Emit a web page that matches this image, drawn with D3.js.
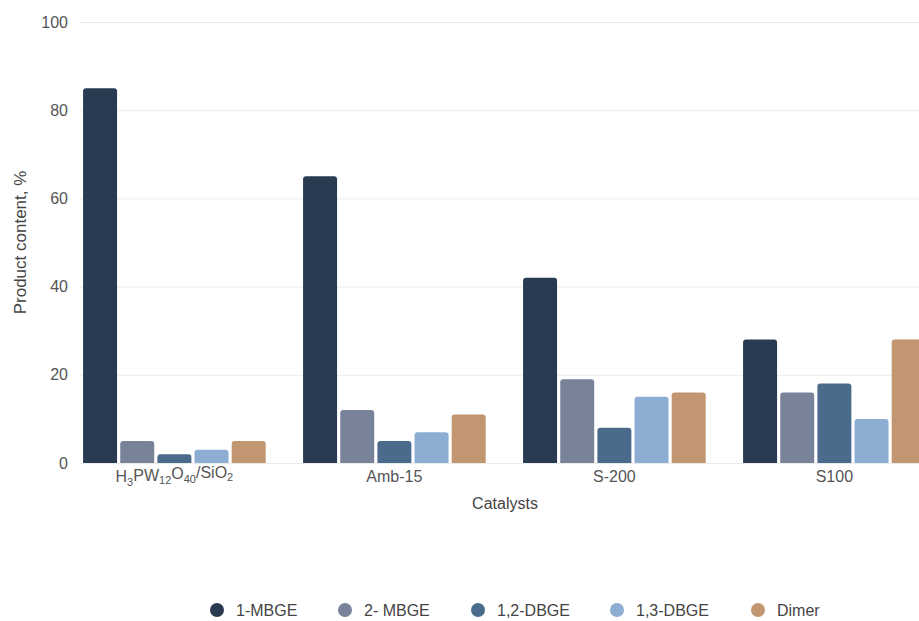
<!DOCTYPE html>
<html>
<head>
<meta charset="utf-8">
<script src="https://cdn.jsdelivr.net/npm/d3@7"></script>
<style>
  html, body { margin: 0; padding: 0; background: #fff; overflow: hidden; }
  svg { display: block; font-family: "Liberation Sans", Arial, Helvetica, sans-serif; }
</style>
</head>
<body>
<svg id="chart" width="919" height="621"></svg>
<script>
// ---- data ----
const categories = ["H3PW12O40/SiO2", "Amb-15", "S-200", "S100"];
const seriesNames = ["1-MBGE", "2- MBGE", "1,2-DBGE", "1,3-DBGE", "Dimer"];
const mbge1  = [85, 65, 42, 28];
const mbge2  = [5, 12, 19, 16];
const dbge12 = [2, 5, 8, 18];
const dbge13 = [3, 7, 15, 10];
const dimer  = [5, 11, 16, 28];
const seriesValues = [mbge1, mbge2, dbge12, dbge13, dimer];
const yTicks = [0, 20, 40, 60, 80, 100];
const colors = ["#293a51", "#78839a", "#4b6b8d", "#8dadd2", "#c29670"];

// ---- layout ----
const svg = d3.select("#chart");
const plotLeft = 80, plotTop = 22, plotBottom = 463;
const step = 220, pIn = 0.17, pOut = 0.014;
const plotRight = plotLeft + step * (categories.length - pIn + 2 * pOut);
const fs = 16;

const y = d3.scaleLinear().domain([0, 100]).range([plotBottom, plotTop]);
const x0 = d3.scaleBand().domain(categories).range([plotLeft, plotRight])
  .paddingInner(pIn).paddingOuter(pOut);
const x1 = d3.scaleBand().domain(seriesNames).range([0, x0.bandwidth()])
  .paddingInner(0.085).paddingOuter(0);
const color = d3.scaleOrdinal().domain(seriesNames).range(colors);

// gridlines
const yAxis = d3.axisLeft(y).tickValues(yTicks).tickSize(-(960 - plotLeft)).tickPadding(12);
const gy = svg.append("g").attr("transform", `translate(${plotLeft},0)`).call(yAxis);
gy.select(".domain").remove();
gy.selectAll(".tick line").attr("stroke", "#ebebeb").attr("stroke-width", 1);
gy.selectAll(".tick text").attr("fill", "#555").attr("font-size", fs)
  .attr("font-family", "'Liberation Sans', Arial, sans-serif");

// bars
const rows = categories.map((c, i) => ({
  cat: c,
  vals: seriesNames.map((s, j) => ({ s, v: seriesValues[j][i] }))
}));
function barPath(xp, yp, w, h, r) {
  r = Math.min(r, h, w / 2);
  return `M${xp},${yp + h}V${yp + r}Q${xp},${yp} ${xp + r},${yp}H${xp + w - r}Q${xp + w},${yp} ${xp + w},${yp + r}V${yp + h}Z`;
}
svg.append("g").selectAll("g").data(rows).join("g")
  .attr("transform", d => `translate(${x0(d.cat)},0)`)
  .selectAll("path").data(d => d.vals).join("path")
  .attr("fill", d => color(d.s))
  .attr("d", d => barPath(x1(d.s), y(d.v), x1.bandwidth(), y(0) - y(d.v), 3));

// x axis labels
const xAxis = d3.axisBottom(x0).tickSize(0).tickPadding(8);
const gx = svg.append("g").attr("transform", `translate(0,${plotBottom})`).call(xAxis);
gx.select(".domain").remove();
gx.selectAll(".tick text").attr("fill", "#555").attr("font-size", fs)
  .attr("font-family", "'Liberation Sans', Arial, sans-serif")
  .each(function(d) {
    if (d === "H3PW12O40/SiO2") {
      const t = d3.select(this).text(null);
      const parts = [["H", false], ["3", true], ["PW", false], ["12", true], ["O", false], ["40", true], ["/SiO", false], ["2", true]];
      parts.forEach(([s, sub], i) => {
        const prevSub = i > 0 ? parts[i - 1][1] : false;
        const ts = t.append("tspan").text(s);
        if (sub) ts.attr("font-size", 11).attr("dy", "0.3em");
        else if (prevSub) ts.attr("dy", "-0.3em");
      });
    }
  });

// axis titles
svg.append("text").attr("x", 505).attr("y", 509).attr("text-anchor", "middle")
  .attr("fill", "#444").attr("font-size", fs).text("Catalysts");
svg.append("text").attr("transform", `translate(26,${(plotTop + plotBottom) / 2}) rotate(-90)`)
  .attr("text-anchor", "middle").attr("fill", "#444").attr("font-size", 17)
  .text("Product content, %");

// legend
const legendX = [217, 345, 478, 617, 758];
const lg = svg.append("g").selectAll("g").data(seriesNames).join("g")
  .attr("transform", (d, i) => `translate(${legendX[i]},610)`);
lg.append("circle").attr("r", 7).attr("fill", d => color(d));
lg.append("text").attr("x", 19).attr("dy", "0.35em").attr("fill", "#444")
  .attr("font-size", fs).text(d => d);
</script>
</body>
</html>
